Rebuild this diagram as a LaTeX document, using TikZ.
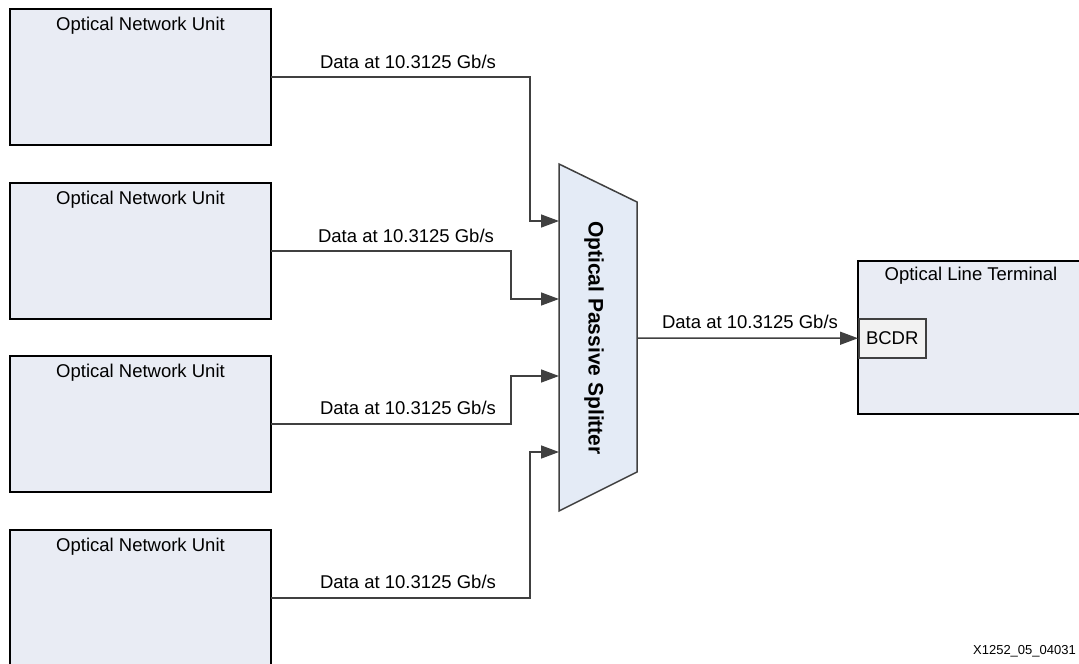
\documentclass[tikz,border=0pt]{standalone}
\usepackage{fontspec}
\setmainfont{Liberation Sans}
\usetikzlibrary{arrows.meta}
\definecolor{boxfill}{HTML}{E9ECF4}
\definecolor{splitfill}{HTML}{E4EBF6}
\definecolor{linegray}{HTML}{404040}
\definecolor{bcdrfill}{HTML}{F2F2F2}
\tikzset{
  unitbox/.style={draw=black, line width=2.2pt, fill=boxfill, minimum width=261pt, minimum height=136pt, inner sep=0pt, outer sep=0pt, anchor=north west},
  boxtitle/.style={anchor=north, font=\fontsize{18.5}{20}\selectfont, inner sep=0pt},
  conn/.style={draw=linegray, line width=1.5pt, -{Triangle[length=18pt,width=13pt]}},
  datalabel/.style={font=\fontsize{18.5}{20}\selectfont, inner sep=0pt, text=black},
}
\begin{document}
\begin{tikzpicture}[x=1pt,y=-1pt]
\useasboundingbox (0,0) rectangle (1079,664);
% ONU boxes
\node[unitbox] (onu1) at (10,9) {};
\node[unitbox] (onu2) at (10,183) {};
\node[unitbox] (onu3) at (10,356) {};
\node[unitbox] (onu4) at (10,530) {};
\foreach \i in {1,2,3,4}{
  \node[boxtitle] (t\i) at ([yshift=-8pt]onu\i.north) {Optical Network Unit};
}
% OLT
\node[draw=black, line width=2.2pt, fill=boxfill, anchor=north west, minimum width=240pt, minimum height=153pt, inner sep=0pt, outer sep=0pt] (olt) at (858,261) {};
\node[boxtitle] (oltt) at (971,267) {Optical Line Terminal};
\node[draw=linegray, line width=1.5pt, fill=bcdrfill, anchor=north west, minimum width=67pt, minimum height=39pt, inner sep=0pt, font=\fontsize{18.5}{20}\selectfont] (bcdr) at (858,318) {BCDR};
% splitter
\coordinate (sTL) at (559,164);
\coordinate (sTR) at (637,202);
\coordinate (sBR) at (637,472);
\coordinate (sBL) at (559,511);
\draw[draw=linegray, line width=1.5pt, fill=splitfill] (sTL) -- (sTR) -- (sBR) -- (sBL) -- cycle;
\node[rotate=-90, font=\bfseries\fontsize{21}{23}\selectfont, inner sep=0pt] (split) at (594,338) {Optical Passive Splitter};
\coordinate (s1) at (559,221);
\coordinate (s2) at (559,299);
\coordinate (s3) at (559,376);
\coordinate (s4) at (559,452);
\coordinate (sout) at (637,338);
\coordinate (ja) at (530,0);
\coordinate (jb) at (511,0);
% connectors
\draw[conn] (onu1.east) -| (ja |- s1) -- (s1);
\draw[conn] (onu2.east) -| (jb |- s2) -- (s2);
\draw[conn] (onu3.east) -| (jb |- s3) -- (s3);
\draw[conn] (onu4.east) -| (ja |- s4) -- (s4);
\draw[conn] (sout) -- (bcdr.west);
% labels
\node[datalabel] (l1) at (408,62) {Data at 10.3125 Gb/s};
\node[datalabel] (l2) at (406,236) {Data at 10.3125 Gb/s};
\node[datalabel] (l3) at (408,408) {Data at 10.3125 Gb/s};
\node[datalabel] (l4) at (408,582) {Data at 10.3125 Gb/s};
\node[datalabel] (l5) at (750,322) {Data at 10.3125 Gb/s};
\node[anchor=east, font=\fontsize{13}{15}\selectfont, inner sep=0pt] (fig) at (1076,651) {X1252\_05\_04031};
\end{tikzpicture}
\end{document}
